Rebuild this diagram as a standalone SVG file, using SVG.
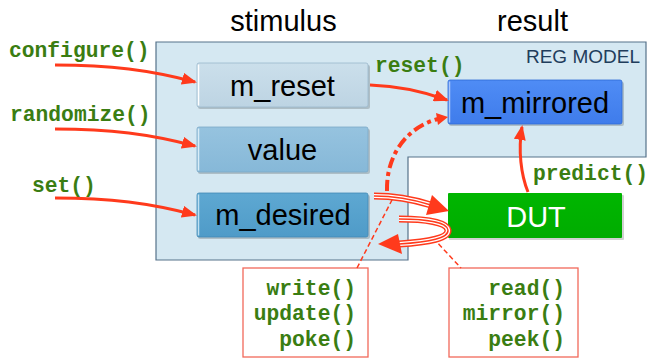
<svg xmlns="http://www.w3.org/2000/svg" width="651" height="358" viewBox="0 0 651 358">
<style>
.title{font-family:"Liberation Sans",Arial,sans-serif;font-size:29px;fill:#000;text-anchor:middle}
.lbl{font-family:"Liberation Sans",Arial,sans-serif;font-size:29px;text-anchor:middle}
.code{font-family:"Liberation Mono","Courier New",monospace;font-weight:bold;font-size:21.3px;fill:#3a7d12}
.arr{fill:none;stroke:#ff3a1c;stroke-width:3;marker-end:url(#ah)}
.thin{fill:none;stroke:#ff3a1c;stroke-width:1.5;stroke-dasharray:5 3}
.tr1{fill:none;stroke:#ff3a1c;stroke-width:7}
.tr2{fill:none;stroke:#fff;stroke-width:4.2}
.tr3{fill:none;stroke:#ff3a1c;stroke-width:1.4}
.shadow{fill:#000;opacity:0.18}
.rbox{fill:#fff;stroke:#f2695a;stroke-width:1.3}
</style>
<defs>
<marker id="ah" markerUnits="userSpaceOnUse" markerWidth="16" markerHeight="12" refX="13" refY="6" orient="auto">
<path d="M0,0 L15,6 L0,12 z" fill="#ff3a1c"/>
</marker>
<linearGradient id="gReset" x1="0" y1="0" x2="0" y2="1"><stop offset="0" stop-color="#cbdfeb"/><stop offset="1" stop-color="#bdd4e3"/></linearGradient>
<linearGradient id="gValue" x1="0" y1="0" x2="0" y2="1"><stop offset="0" stop-color="#96c3df"/><stop offset="1" stop-color="#86b8d8"/></linearGradient>
<linearGradient id="gDes" x1="0" y1="0" x2="0" y2="1"><stop offset="0" stop-color="#5ea8d2"/><stop offset="1" stop-color="#4f9bc8"/></linearGradient>
<linearGradient id="gMir" x1="0" y1="0" x2="0" y2="1"><stop offset="0" stop-color="#4f8cf5"/><stop offset="1" stop-color="#3f7ceb"/></linearGradient>
<linearGradient id="gDut" x1="0" y1="0" x2="0" y2="1"><stop offset="0" stop-color="#00b600"/><stop offset="1" stop-color="#00ac00"/></linearGradient>
<path id="pWrite" d="M374,196 C395,196 412,199 431,205"/>
<path id="pRead" d="M399,219 C425,219 447,222 448,230 C449,238 430,242 399,244"/>
</defs>

<g id="panel">
<path d="M156,42 H646 V157 H408 V260 H156 Z" fill="#d5e8f2" stroke="#56728a" stroke-width="1.2"/>
<text x="640" y="63" font-family="'Liberation Sans',Arial,sans-serif" font-size="19" fill="#1f3d5c" text-anchor="end">REG MODEL</text>
</g>

<g id="titles">
<text class="title" x="283.5" y="31">stimulus</text>
<text class="title" x="532.5" y="31">result</text>
</g>

<g id="m_reset">
<rect class="shadow" x="198" y="65" width="172" height="44" rx="2"/>
<rect x="197" y="63" width="171" height="44" rx="2" fill="url(#gReset)" stroke="#9ab7cb" stroke-width="0.8"/>
<line x1="198.5" y1="64.5" x2="198.5" y2="105.5" stroke="#fff" stroke-width="1.5"/>
<text class="lbl" x="282.5" y="96" fill="#000">m_reset</text>
</g>

<g id="value">
<rect class="shadow" x="198" y="129" width="172" height="45" rx="2"/>
<rect x="197" y="127" width="171" height="45" rx="2" fill="url(#gValue)" stroke="#7ba8c6" stroke-width="0.8"/>
<line x1="198.5" y1="128.5" x2="198.5" y2="170.5" stroke="#d8ecf7" stroke-width="1.5"/>
<text class="lbl" x="282.5" y="160" fill="#000">value</text>
</g>

<g id="m_desired">
<rect class="shadow" x="198" y="195" width="172" height="44" rx="2"/>
<rect x="197" y="193" width="171" height="44" rx="2" fill="url(#gDes)" stroke="#4389b5" stroke-width="0.8"/>
<line x1="198.5" y1="194.5" x2="198.5" y2="235.5" stroke="#bfe0f2" stroke-width="1.5"/>
<text class="lbl" x="283" y="225" fill="#000">m_desired</text>
</g>

<g id="m_mirrored">
<rect class="shadow" x="449" y="82" width="175" height="44" rx="2"/>
<rect x="448" y="80" width="174" height="44" rx="2" fill="url(#gMir)" stroke="#2f6bd6" stroke-width="0.8"/>
<line x1="449.5" y1="81.5" x2="449.5" y2="122.5" stroke="#a9c6fb" stroke-width="1.5"/>
<text class="lbl" x="535" y="113" fill="#000">m_mirrored</text>
</g>

<g id="DUT">
<rect class="shadow" x="449" y="195" width="175" height="45" rx="1"/>
<rect x="448" y="193" width="174" height="45" rx="1" fill="url(#gDut)"/>
<text class="lbl" x="536" y="227" fill="#fff">DUT</text>
</g>

<g id="write_box">
<rect class="rbox" x="243" y="268" width="125" height="89"/>
<text class="code" x="356" y="295" text-anchor="end">write()</text>
<text class="code" x="356" y="320" text-anchor="end">update()</text>
<text class="code" x="356" y="346" text-anchor="end">poke()</text>
</g>

<g id="read_box">
<rect class="rbox" x="449" y="268" width="129" height="89"/>
<text class="code" x="565" y="295" text-anchor="end">read()</text>
<text class="code" x="565" y="320" text-anchor="end">mirror()</text>
<text class="code" x="565" y="346" text-anchor="end">peek()</text>
</g>

<g id="labels">
<text class="code" x="9" y="57">configure()</text>
<text class="code" x="10" y="121">randomize()</text>
<text class="code" x="32" y="192">set()</text>
<text class="code" x="375" y="72">reset()</text>
<text class="code" x="533" y="180">predict()</text>
</g>

<g id="connectors">
<path class="arr" d="M55,65 C110,65 150,70 195,82"/>
<path class="arr" d="M55,129 C110,129 150,134 195,146"/>
<path class="arr" d="M55,198 C110,198 150,203 195,215"/>
<path class="arr" d="M370,85 C400,86 425,92 447,100"/>
<path class="arr" d="M528,192 C521,175 518,150 522,127"/>
<path d="M387,191 C386,152 410,126 438,119" fill="none" stroke="#ff3a1c" stroke-width="4" stroke-dasharray="11 4 4 4"/>
<path d="M436,113 L448,117 L438,125 z" fill="#ff3a1c"/>
<path class="thin" d="M357,268 L393,198"/>
<path class="thin" d="M433,238 L461,268"/>
<use href="#pWrite" class="tr1"/>
<use href="#pWrite" class="tr2"/>
<use href="#pWrite" class="tr3"/>
<polygon points="432,195 449,211 426,215" fill="#ff3a1c"/>
<use href="#pRead" class="tr1"/>
<use href="#pRead" class="tr2"/>
<use href="#pRead" class="tr3"/>
<polygon points="398,234 378,244 402,254" fill="#ff3a1c"/>
</g>
</svg>
